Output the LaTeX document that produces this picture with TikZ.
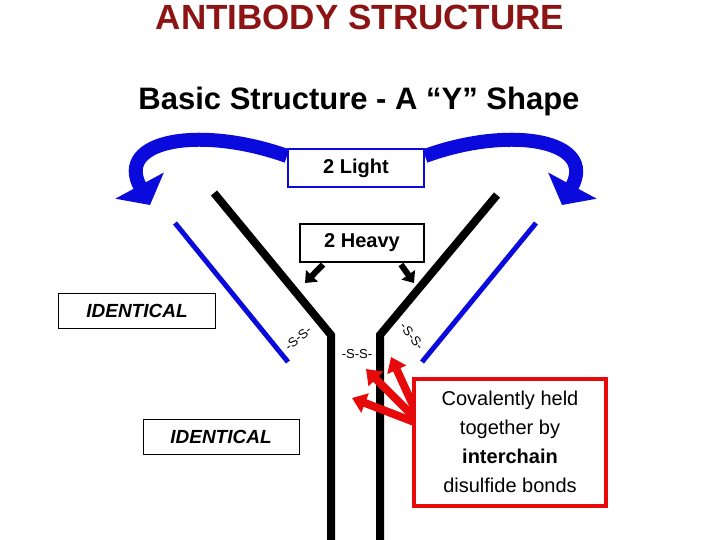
\documentclass[tikz,border=0pt]{standalone}
\usepackage{fontspec}
\setmainfont{Liberation Sans}
\usetikzlibrary{arrows.meta}
\definecolor{tred}{RGB}{140,20,20}
\definecolor{lblue}{RGB}{10,10,220}
\definecolor{bred}{RGB}{230,10,10}
\begin{document}
\begin{tikzpicture}[x=1pt,y=-1pt,
  heavy/.style={line width=8pt,black},
  light/.style={line width=5pt,lblue},
  ibox/.style={draw,line width=0.8pt,minimum height=35pt,font=\bfseries\itshape\fontsize{19}{22}\selectfont},
  ss/.style={font=\fontsize{13}{15}\selectfont,inner sep=0pt},
  bluearr/.style={lblue,line width=14pt,-{Triangle[length=22pt,width=54pt]}},
  redarr/.style={bred,line width=8pt,-{Triangle[length=14pt,width=20pt]}}]
\useasboundingbox (0,0) rectangle (720,540);
\node (title) at (360,17) {\color{tred}\bfseries\fontsize{35}{40}\selectfont ANTIBODY STRUCTURE};
\node (sub) at (359,101) {\bfseries\fontsize{31}{36}\selectfont Basic Structure - A “Y” Shape};
% heavy chains
\coordinate (hl1) at (214,193); \coordinate (hl2) at (331,335); \coordinate (hl3) at (331,540);
\coordinate (hr1) at (497,195); \coordinate (hr2) at (380,335); \coordinate (hr3) at (380,540);
\draw[heavy] (hl1) -- (hl2) -- (hl3);
\draw[heavy] (hr1) -- (hr2) -- (hr3);
% light chains
\coordinate (ll1) at (175,223); \coordinate (ll2) at (288,362);
\coordinate (lr1) at (536,223); \coordinate (lr2) at (422,362);
\draw[light] (ll1) -- (ll2);
\draw[light] (lr1) -- (lr2);
% boxes
\node[draw=lblue,line width=2pt,minimum width=136pt,minimum height=38pt,fill=white,font=\bfseries\fontsize{20}{24}\selectfont] (light) at (356,168) {2 Light};
\node[draw,line width=2pt,minimum width=124pt,minimum height=37pt,fill=white,font=\bfseries\fontsize{20}{24}\selectfont] (heavy) at (362,243) {2 Heavy};
% curved blue arrows
\coordinate (la) at (150,205); \coordinate (ra) at (562,205);
\draw[bluearr] (light.west) ++(0,-12) .. controls (200,125) and (115,140) .. (la);
\draw[bluearr] (light.east) ++(0,-12) .. controls (510,125) and (597,140) .. (ra);
% heavy box arrows
\coordinate (hla) at (305,283); \coordinate (hra) at (414,283);
\draw[line width=6pt,-{Triangle[length=10pt,width=16pt]}] (heavy.south west) ++(24,2) -- (hla);
\draw[line width=6pt,-{Triangle[length=10pt,width=16pt]}] (heavy.south east) ++(-24,2) -- (hra);
% identical boxes
\node[ibox,minimum width=157pt] (id1) at (137,311) {IDENTICAL};
\node[ibox,minimum width=156pt] (id2) at (221,437) {IDENTICAL};
% S-S labels
\node[ss,rotate=40] (ssl) at (298,338) {-S-S-};
\node[ss] (ssm) at (357,354) {-S-S-};
\node[ss,rotate=-52] (ssr) at (412,336) {-S-S-};
% red arrows
\coordinate (rb) at (422,425);
\coordinate (t1) at (391,357); \coordinate (t2) at (366,369); \coordinate (t3) at (352,398);
\draw[redarr] (rb) -- (t1);
\draw[redarr] (rb) -- (t2);
\draw[redarr] (rb) -- (t3);
% red box
\node[draw=bred,line width=4pt,minimum width=192pt,minimum height=127pt,align=center,font=\fontsize{20}{29}\selectfont,fill=white] (cov) at (510,442) {Covalently held\\together by\\\textbf{interchain}\\disulfide bonds};
\end{tikzpicture}
\end{document}
